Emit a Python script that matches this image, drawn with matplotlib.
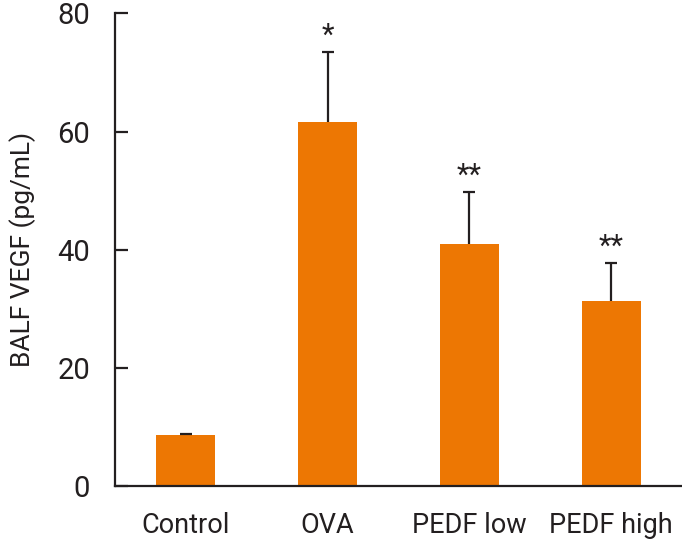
import matplotlib
matplotlib.use('Agg')
import matplotlib.pyplot as plt

groups = ['Control', 'OVA', 'PEDF low', 'PEDF high']
means = [8.6, 61.6, 41.0, 31.4]
errors = [0.2, 11.8, 8.7, 6.3]
stars = ['', '*', '**', '**']

plt.rcParams['font.family'] = ['Roboto', 'DejaVu Sans']

fig = plt.figure(figsize=(6.82, 5.44), dpi=100)
ax = fig.add_axes([0.1686, 0.1066, 0.8314, 0.8686])

x = list(range(len(groups)))
ax.bar(x, means, width=0.416, color='#ED7703', zorder=2)
_, caps, _ = ax.errorbar(x, means, yerr=[[0] * len(errors), errors], fmt='none',
                         ecolor='#231F20', elinewidth=1.6, capsize=4.5,
                         capthick=1.6, zorder=3)
# only the upper cap is drawn in the original
for cap in caps:
    if list(cap.get_ydata()) == means:
        cap.set_visible(False)

for i, (m, e, s) in enumerate(zip(means, errors, stars)):
    if s:
        ax.text(i, m + e + 1.5, s, ha='center', va='baseline', fontsize=21,
                color='#231F20')

ax.set_xlim(-0.5, 3.5)
ax.set_ylim(0, 80)
ax.set_yticks([0, 20, 40, 60, 80])
ax.set_xticks(x)
ax.set_xticklabels(groups)
ax.set_ylabel('BALF VEGF (pg/mL)', fontsize=19, color='#231F20', labelpad=15)

for side in ['top', 'right']:
    ax.spines[side].set_visible(False)
for side in ['left', 'bottom']:
    ax.spines[side].set_linewidth(1.6)
    ax.spines[side].set_color('#231F20')

ax.tick_params(axis='y', direction='in', length=9, width=1.6, pad=18,
               labelsize=21, colors='#231F20')
ax.tick_params(axis='x', length=0, pad=19, labelsize=19.5, colors='#231F20')

fig.savefig('out.png', dpi=100)
